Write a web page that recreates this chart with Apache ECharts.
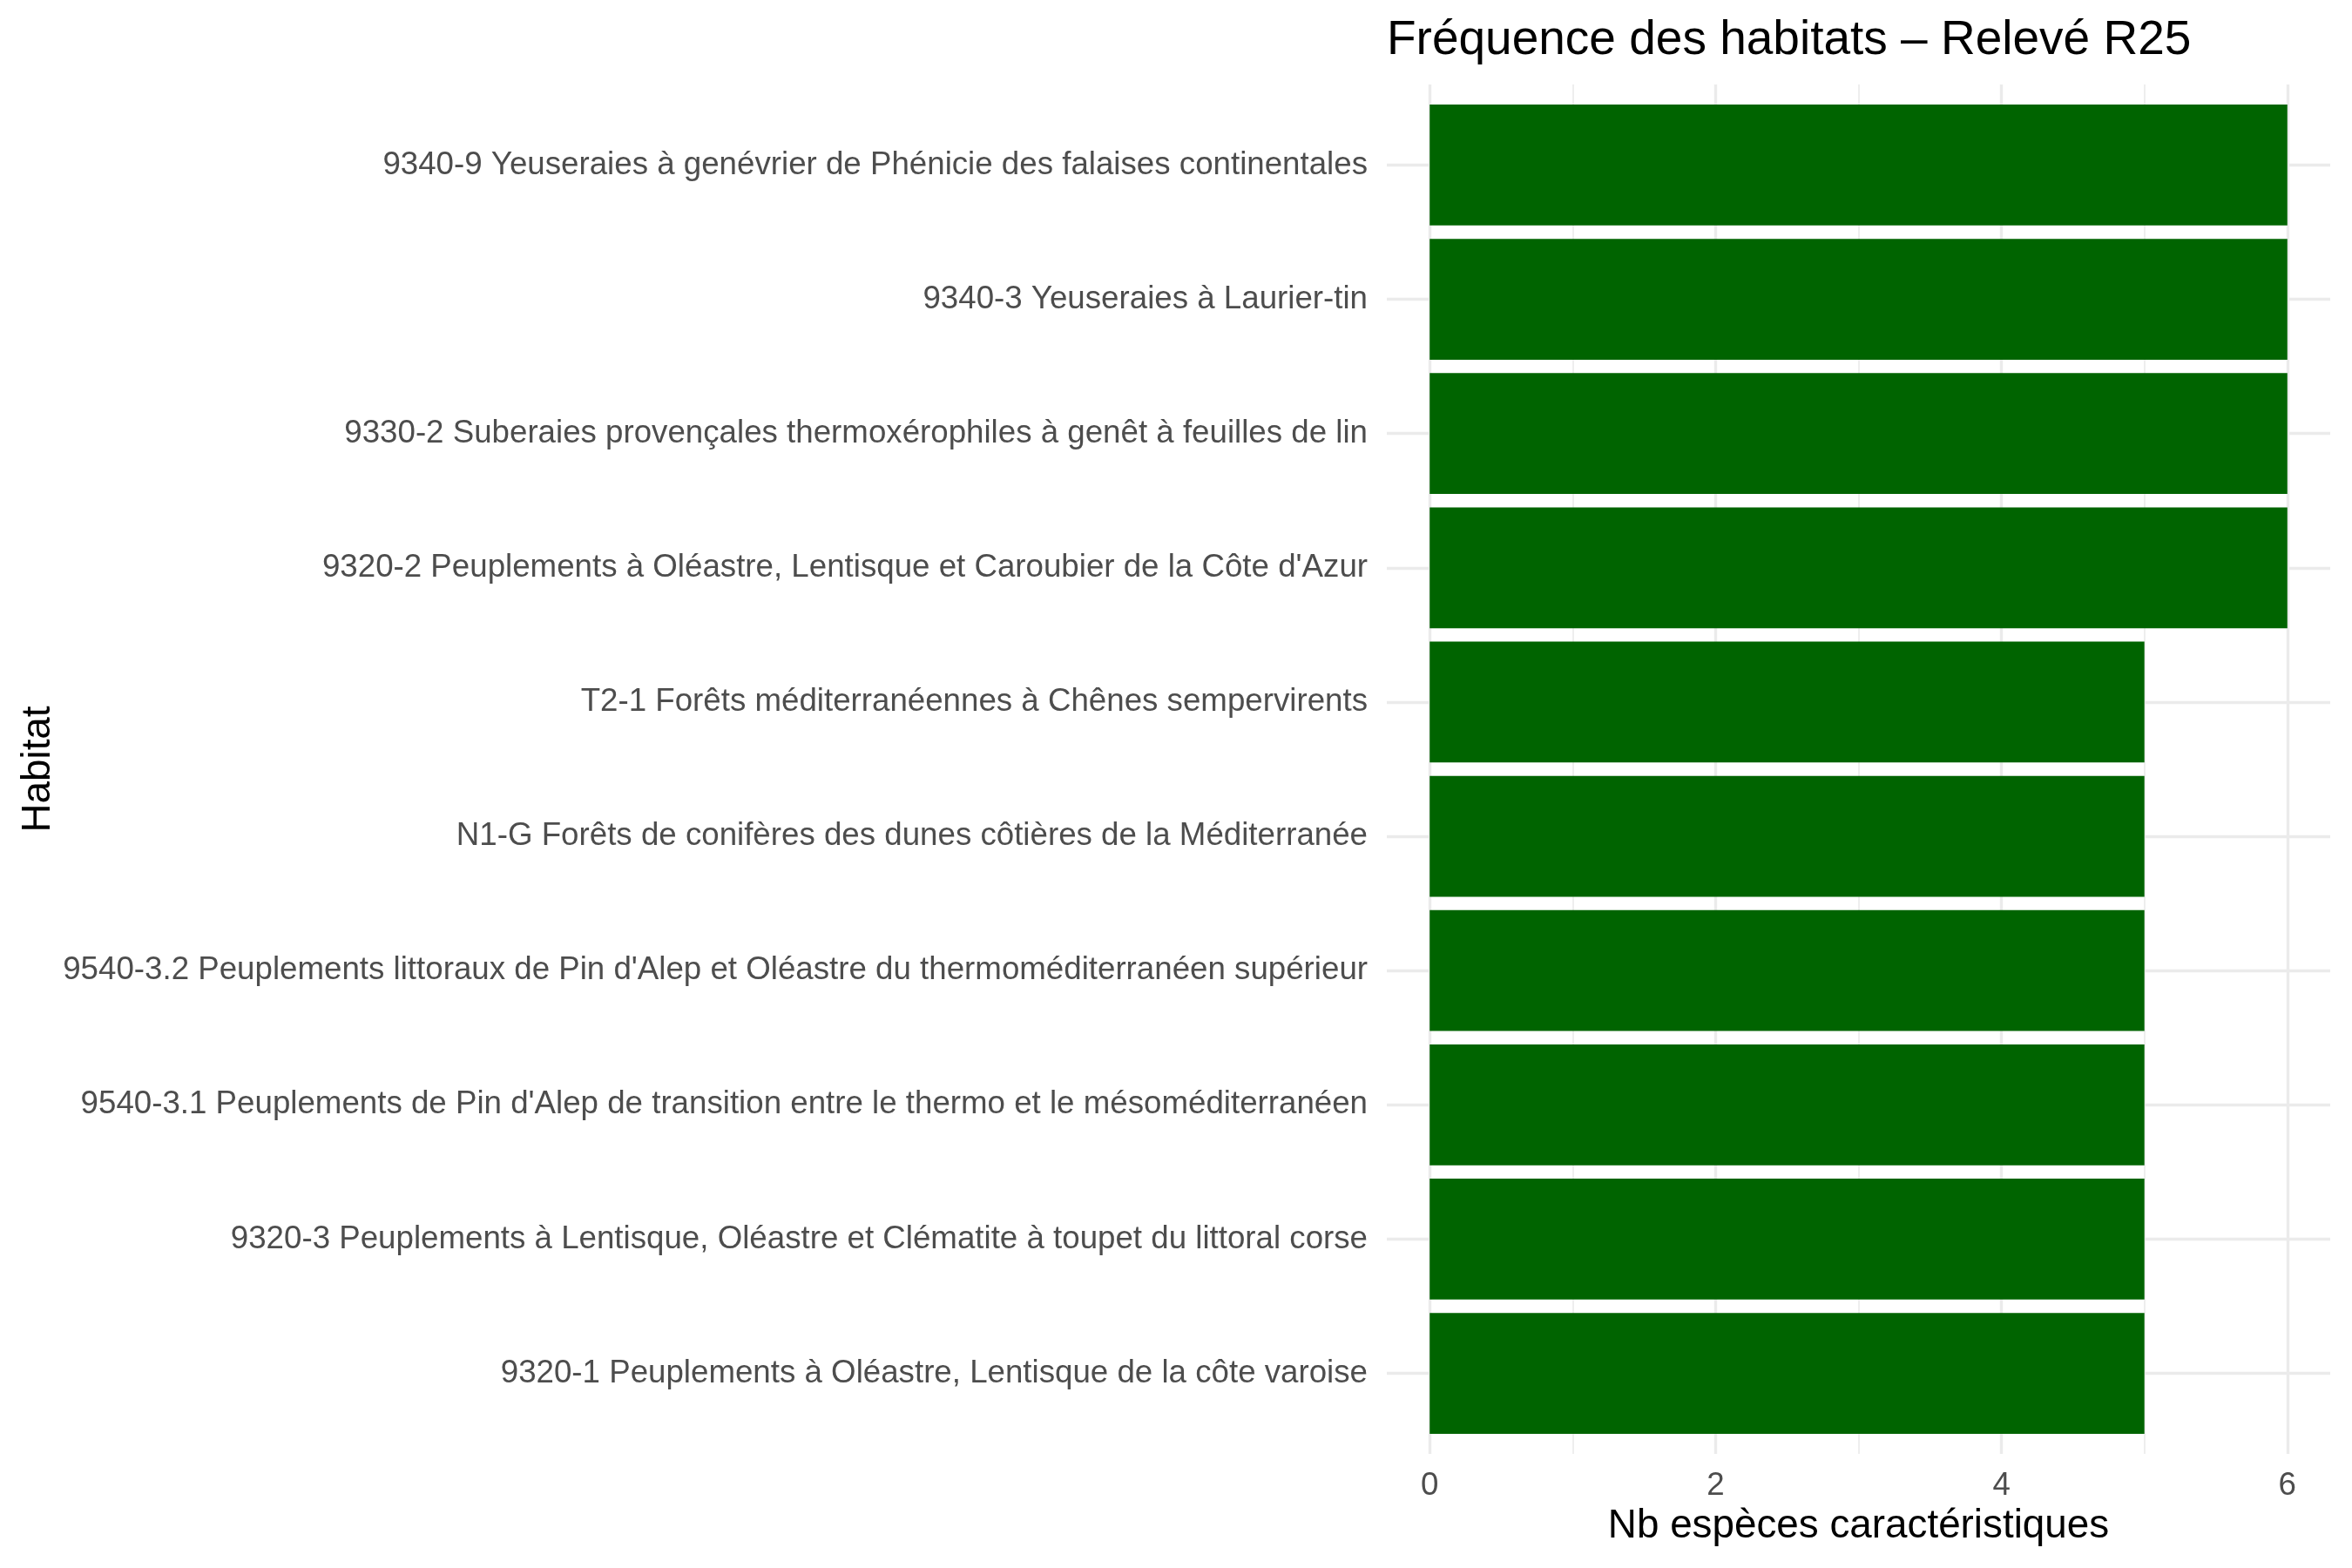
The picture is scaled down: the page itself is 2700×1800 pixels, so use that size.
<!DOCTYPE html>
<html>
<head>
<meta charset="utf-8">
<script src="https://cdn.jsdelivr.net/npm/echarts@6/dist/echarts.min.js"></script>
<style>
  html, body { margin: 0; padding: 0; background: #fff; }
  #chart { width: 2700px; height: 1800px; }
</style>
</head>
<body>
<div id="chart"></div>
<script>
// habitats, top to bottom as shown
var habitats = [
    '9340-9 Yeuseraies à genévrier de Phénicie des falaises continentales',
    '9340-3 Yeuseraies à Laurier-tin',
    '9330-2 Suberaies provençales thermoxérophiles à genêt à feuilles de lin',
    "9320-2 Peuplements à Oléastre, Lentisque et Caroubier de la Côte d'Azur",
    'T2-1 Forêts méditerranéennes à Chênes sempervirents',
    'N1-G Forêts de conifères des dunes côtières de la Méditerranée',
    "9540-3.2 Peuplements littoraux de Pin d'Alep et Oléastre du thermoméditerranéen supérieur",
    "9540-3.1 Peuplements de Pin d'Alep de transition entre le thermo et le mésoméditerranéen",
    '9320-3 Peuplements à Lentisque, Oléastre et Clématite à toupet du littoral corse',
    '9320-1 Peuplements à Oléastre, Lentisque de la côte varoise'
];
var nbEspeces = [6, 6, 6, 6, 5, 5, 5, 5, 5, 5];

var majorTicks = [0, 2, 4, 6];
var minorTicks = [1, 3, 5];
var rowTicks = [1, 2, 3, 4, 5, 6, 7, 8, 9, 10];

var chart = echarts.init(document.getElementById('chart'));

var font = 'Liberation Sans, Arial, sans-serif';
var gridColor = '#EBEBEB';

var option = {
    backgroundColor: '#ffffff',
    animation: false,
    title: {
        text: 'Fréquence des habitats – Relevé R25',
        left: 1587,
        top: 14,
        textStyle: { fontFamily: font, fontSize: 55, fontWeight: 'normal', color: '#000' }
    },
    grid: [
        // panel with expansion (gridlines)
        { left: 1592, right: 25, top: 97, bottom: 131 },
        // bars
        { left: 1592, right: 25, top: 112.4, bottom: 146.4 }
    ],
    xAxis: [
        {
            gridIndex: 0,
            type: 'value',
            min: -0.3,
            max: 6.3,
            position: 'bottom',
            name: 'Nb espèces caractéristiques',
            nameLocation: 'middle',
            nameGap: 60,
            nameTextStyle: { fontFamily: font, fontSize: 45.8, color: '#000' },
            axisLine: { show: false },
            axisTick: { show: false, customValues: majorTicks },
            axisLabel: { customValues: majorTicks, margin: 18, fontFamily: font, fontSize: 36.7, color: '#4D4D4D' },
            splitLine: { show: true, lineStyle: { color: gridColor, width: 3.4 } }
        },
        {
            gridIndex: 0,
            type: 'value',
            min: -0.3,
            max: 6.3,
            position: 'top',
            axisLine: { show: false },
            axisTick: { show: false, customValues: minorTicks },
            axisLabel: { show: false, customValues: minorTicks },
            splitLine: { show: true, lineStyle: { color: gridColor, width: 1.7 } }
        },
        {
            gridIndex: 1,
            type: 'value',
            min: -0.3,
            max: 6.3,
            show: false
        }
    ],
    yAxis: [
        {
            gridIndex: 0,
            type: 'value',
            min: 0.4,
            max: 10.6,
            inverse: true,
            name: 'Habitat',
            nameLocation: 'middle',
            nameRotate: 90,
            nameGap: 1525,
            nameTextStyle: { fontFamily: font, fontSize: 45.8, color: '#000' },
            axisLine: { show: false },
            axisTick: { show: false, customValues: rowTicks },
            axisLabel: { show: false, customValues: rowTicks },
            splitLine: { show: true, lineStyle: { color: gridColor, width: 3.4 } }
        },
        {
            gridIndex: 1,
            type: 'category',
            data: habitats,
            inverse: true,
            axisLine: { show: false },
            axisTick: { show: false },
            axisLabel: { margin: 22, fontFamily: font, fontSize: 36.7, color: '#4D4D4D' },
            splitLine: { show: false }
        }
    ],
    series: [
        {
            type: 'scatter',
            xAxisIndex: 0,
            yAxisIndex: 0,
            data: [],
            silent: true
        },
        {
            type: 'bar',
            xAxisIndex: 2,
            yAxisIndex: 1,
            data: nbEspeces,
            barCategoryGap: '10%',
            itemStyle: { color: '#006400' },
            z: 5
        }
    ]
};

chart.setOption(option);
</script>
</body>
</html>
